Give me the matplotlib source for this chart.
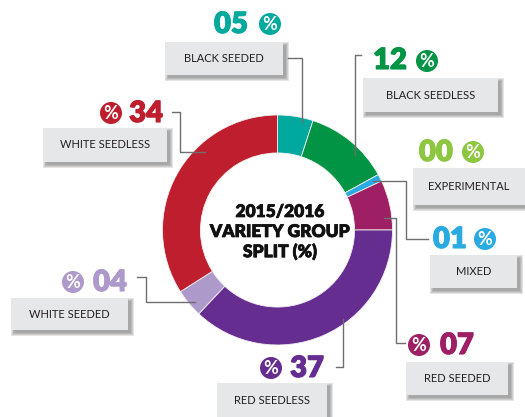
import matplotlib
matplotlib.use("Agg")
import matplotlib.pyplot as plt
import matplotlib.patheffects as pe
from matplotlib.patches import Rectangle, Circle

# data
groups = ["BLACK SEEDED", "BLACK SEEDLESS", "EXPERIMENTAL", "MIXED",
          "RED SEEDED", "RED SEEDLESS", "WHITE SEEDED", "WHITE SEEDLESS"]
shares = [5, 12, 0, 1, 7, 37, 4, 34]
colors = ["#00A99D", "#009444", "#8DC63F", "#29ABE2",
          "#9E1F63", "#662D91", "#AE99CB", "#BE1E2D"]
title_lines = ["2015/2016", "VARIETY GROUP", "SPLIT (%)"]

# label layout in pixels: box (x0, y0, x1, y1), number centre, % circle centre
boxes = [(165, 42, 283, 75), (363, 78, 498, 112), (413, 168, 530, 205),
         (430, 255, 517, 288), (406, 362, 508, 395), (217, 383, 327, 425),
         (11, 298, 128, 330), (43, 128, 167, 162)]
num_pos = [(231, 24), (390, 60), (436, 152), (450, 239),
           (457, 345), (307, 368), (110, 282), (146, 113)]
pct_pos = [(270, 24), (427, 61), (473, 152), (485, 239),
           (419, 345), (271, 368), (73, 282), (111, 113)]
leaders = [
    [(288, 58), (302, 58), (302, 122)],
    [(361, 55), (355, 55), (355, 155)],
    None,
    [(373, 181), (406, 181), (406, 239), (428, 239)],
    [(384, 218), (396, 218), (396, 343), (405, 343)],
    [(343, 319), (343, 367), (336, 367)],
    [(137, 277), (146, 277), (146, 302), (195, 302)],
    [(172, 112), (180, 112), (180, 152), (205, 152)],
]

W, H = 525, 417
fig = plt.figure(figsize=(W / 100, H / 100), dpi=100)

# donut: centre (277.5, 230), outer radius 115 px
cx, cy, r = 277.5, 230, 115
ax = fig.add_axes([(cx - r) / W, (H - cy - r) / H, 2 * r / W, 2 * r / H])
vals = [v for v in shares if v > 0]
cols = [c for v, c in zip(shares, colors) if v > 0]
ax.pie(vals, colors=cols, startangle=90, counterclock=False, radius=1,
       wedgeprops=dict(width=0.33, edgecolor="#f0f0f0", linewidth=0.6))
ax.set_xlim(-1, 1)
ax.set_ylim(-1, 1)
ax.axis("off")

# overlay in pixel coordinates
ov = fig.add_axes([0, 0, 1, 1], facecolor="none")
ov.set_xlim(0, W)
ov.set_ylim(H, 0)
ov.axis("off")

font = "Lato"
for i, line in enumerate(title_lines):
    ov.text(280, 212 + i * 20, line, ha="center", va="center",
            fontsize=12.5, fontweight="heavy", family=font, color="#111111",
            path_effects=[pe.withStroke(linewidth=0.5, foreground="#111111")])

for i, g in enumerate(groups):
    x0, y0, x1, y1 = boxes[i]
    for d in [3, 2, 1, 0]:
        ov.add_patch(Rectangle((x0 + 3 - d, y0 + 3 - d), x1 - x0 + 2 * d,
                               y1 - y0 + 2 * d, facecolor="#333333",
                               alpha=0.13, edgecolor="none"))
    ov.add_patch(Rectangle((x0, y0), x1 - x0, y1 - y0,
                           facecolor="#E6E7E8", edgecolor="none"))
    ty = (y0 + y1) / 2 if y1 < H else 401
    ov.text((x0 + min(x1, W)) / 2, ty, g, ha="center", va="center",
            fontsize=8, family=font, color="#231F20")

    nx, ny = num_pos[i]
    ov.text(nx, ny + 1, f"{shares[i]:02d}", ha="center", va="center",
            fontsize=21, fontweight="heavy", family=font, color=colors[i],
            path_effects=[pe.withStroke(linewidth=0.8, foreground=colors[i])])
    px, py = pct_pos[i]
    ov.add_patch(Circle((px, py), 11, facecolor=colors[i], edgecolor="none"))
    ov.text(px, py + 0.5, "%", ha="center", va="center", fontsize=13,
            fontweight="bold", family=font, color="white")

    if leaders[i]:
        xs, ys = zip(*leaders[i])
        ov.plot(xs, ys, color="#6D6E71", lw=1)

fig.savefig("out.png", dpi=100)
